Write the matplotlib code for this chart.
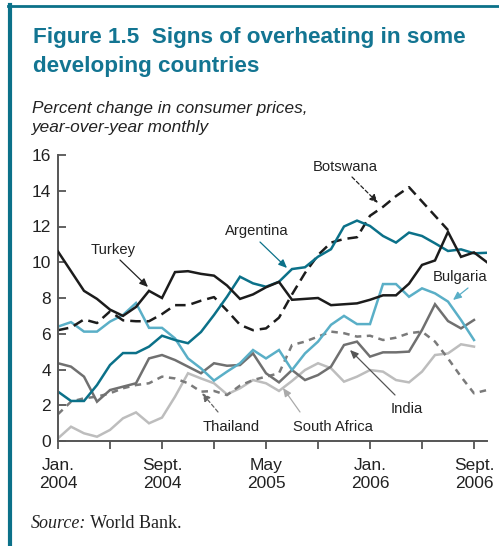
import matplotlib
matplotlib.use("Agg")
import matplotlib.pyplot as plt
from matplotlib.lines import Line2D
import numpy as np

# ---------------- data (monthly, Jan 2004 = 0) ----------------
turkey = [10.6, 9.5, 8.4, 7.95, 7.35, 7.0, 7.5, 8.4, 8.0, 9.45, 9.5, 9.35, 9.25, 8.7,
          7.95, 8.2, 8.6, 8.9, 7.9, 7.95, 8.0, 7.6, 7.65, 7.7, 7.9, 8.15, 8.15, 8.8,
          9.85, 10.1, 11.7, 10.3, 10.55, 10.0]
botswana = [6.2, 6.35, 6.8, 6.6, 7.25, 6.75, 6.7, 6.7, 7.1, 7.6, 7.6, 7.85, 8.05, 7.3,
            6.5, 6.2, 6.3, 6.9, 8.2, 9.4, 10.4, 11.1, 11.3, 11.4, 12.6, 13.1, 13.7,
            14.2, 13.4, 12.6, 11.8]
argentina = [2.76, 2.24, 2.24, 3.13, 4.25, 4.92, 4.92, 5.28, 5.89, 5.65, 5.47, 6.1,
             7.05, 8.07, 9.19, 8.82, 8.63, 8.91, 9.62, 9.72, 10.31, 10.73, 12.0, 12.33,
             12.03, 11.47, 11.1, 11.66, 11.47, 11.06, 10.63, 10.72, 10.5, 10.53]
bulgaria = [6.4, 6.65, 6.12, 6.12, 6.68, 7.05, 7.72, 6.33, 6.33, 5.74, 4.62, 4.06,
            3.38, 3.88, 4.35, 5.09, 4.62, 5.09, 3.97, 4.9, 5.56, 6.5, 7.0, 6.54, 6.54,
            8.78, 8.78, 8.07, 8.54, 8.26, 7.8, 6.77, 5.65]
india = [4.35, 4.16, 3.6, 2.2, 2.85, 3.04, 3.23, 4.62, 4.81, 4.53, 4.16, 3.79, 4.35,
         4.21, 4.25, 4.9, 3.79, 3.28, 3.97, 3.41, 3.69, 4.16, 5.37, 5.56, 4.72, 4.96,
         4.96, 5.0, 6.21, 7.65, 6.71, 6.3, 6.77]
thailand = [1.5, 2.2, 2.39, 2.48, 2.67, 2.95, 3.13, 3.23, 3.6, 3.5, 3.23, 2.76, 2.8,
            2.57, 3.1, 3.41, 3.6, 3.79, 5.37, 5.56, 5.84, 6.12, 6.03, 5.84, 5.89, 5.65,
            5.78, 6.03, 6.12, 5.56, 4.62, 3.6, 2.67, 2.85]
south_africa = [0.15, 0.8, 0.43, 0.24, 0.62, 1.27, 1.6, 0.99, 1.31, 2.48, 3.79, 3.5,
                3.23, 2.61, 2.95, 3.41, 3.23, 2.8, 3.36, 3.97, 4.35, 4.07, 3.32, 3.6,
                3.97, 3.88, 3.41, 3.28, 3.88, 4.81, 4.9, 5.41, 5.28]

tick_months = [0, 4, 8, 12, 16, 20, 24, 28, 32]
tick_labels = ["Jan.\n2004", "", "Sept.\n2004", "", "May\n2005", "", "Jan.\n2006", "", "Sept.\n2006"]
y_ticks = [0, 2, 4, 6, 8, 10, 12, 14, 16]

# ---------------- styling ----------------
TEAL_TITLE = "#137592"
C_ARG = "#0b7189"
C_BUL = "#5aafc7"
C_BLACK = "#1c1c1c"
C_INDIA = "#707070"
C_THAI = "#7a7a7a"
C_SA = "#bdbdbd"
AXIS_C = "#555555"
TXT = "#222222"

plt.rcParams["font.family"] = ["Liberation Sans", "DejaVu Sans"]

fig = plt.figure(figsize=(4.99, 5.46), dpi=100)
ax = fig.add_axes([58 / 499, 1 - 441 / 546, (487 - 58) / 499, (441 - 155) / 546])

def plot_series(vals, color, ls, lw=1.8, z=2):
    x = np.arange(len(vals))
    ax.plot(x, vals, color=color, linestyle=ls, linewidth=lw, zorder=z,
            solid_joinstyle="miter", dash_capstyle="butt")

plot_series(south_africa, C_SA, "-", z=2)
plot_series(thailand, C_THAI, (0, (2.6, 2.2)), z=2.1)
plot_series(india, C_INDIA, "-", z=2.2)
plot_series(bulgaria, C_BUL, "-", z=2.3)
plot_series(botswana, C_BLACK, (0, (4.2, 2.4)), z=2.4)
plot_series(argentina, C_ARG, "-", z=2.5)
plot_series(turkey, C_BLACK, "-", z=2.6)

ax.set_xlim(0, 33)
ax.set_ylim(0, 16)
ax.set_xticks(tick_months)
ax.set_xticklabels(tick_labels, fontsize=12.5, color=TXT, linespacing=1.2)
ax.set_yticks(y_ticks)
ax.set_yticklabels([str(v) for v in y_ticks], fontsize=12.5, color=TXT)
ax.tick_params(axis="y", direction="in", length=5.5, width=1.3, color=AXIS_C, pad=5)
ax.tick_params(axis="x", direction="out", length=5.5, width=1.3, color=AXIS_C, pad=7)
for s in ["top", "right"]:
    ax.spines[s].set_visible(False)
for s in ["left", "bottom"]:
    ax.spines[s].set_color(AXIS_C)
    ax.spines[s].set_linewidth(1.4)
ax.set_facecolor("none")

# ---------------- annotations ----------------
def pm(px, py):
    return ((px - 58) / 13.0, (441 - py) / 17.875)

def label(text, txy, start, end, arrow_color, dashed=False):
    ax.text(*pm(*txy), text, fontsize=10.6, color=TXT, ha="center", va="center")
    ax.annotate("", xy=pm(*end), xytext=pm(*start),
                arrowprops=dict(arrowstyle="-|>,head_length=0.5,head_width=0.22",
                                color=arrow_color, lw=0.9,
                                linestyle=(0, (3, 2)) if dashed else "-",
                                shrinkA=0, shrinkB=0))

label("Turkey", (113, 250), (120, 260), (148, 287), TXT)
label("Argentina", (257, 231), (260, 242), (287, 268), C_ARG)
label("Botswana", (345, 167), (352, 177), (378, 203), TXT, dashed=True)
label("Bulgaria", (460, 277), (468, 288), (453, 300), C_BUL)
label("India", (407, 409), (395, 395), (350, 350), "#555555")
label("South Africa", (333, 427), (300, 412), (283, 388), "#aaaaaa")
label("Thailand", (231, 427), (218, 412), (202, 393), "#666666", dashed=True)

# ---------------- titles, frame, source ----------------
fig.text(33 / 499, 1 - 52 / 546, "Figure 1.5  Signs of overheating in some\ndeveloping countries",
         fontsize=16.2, fontweight="bold", color=TEAL_TITLE, ha="left", va="center",
         linespacing=1.45)
fig.text(32 / 499, 1 - 118 / 546, "Percent change in consumer prices,\nyear-over-year monthly",
         fontsize=12.4, style="italic", color=TXT, ha="left", va="center",
         linespacing=1.3)

serif = ["Liberation Serif", "DejaVu Serif"]
s1 = fig.text(31 / 499, 1 - 523 / 546, "Source:", fontsize=13, style="italic",
              family=serif, ha="left", va="center", color=TXT)
renderer = fig.canvas.get_renderer()
bb = s1.get_window_extent(renderer=renderer)
fig.text(bb.x1 / fig.bbox.width, 1 - 523 / 546, " World Bank.", fontsize=13,
         family=serif, ha="left", va="center", color=TXT)

fig.add_artist(Line2D([9.5 / 499, 9.5 / 499], [0, 1 - 5 / 546], color=C_ARG, lw=3.0,
                      transform=fig.transFigure))
fig.add_artist(Line2D([8 / 499, 1], [1 - 5.5 / 546, 1 - 5.5 / 546], color=C_ARG, lw=2.0,
                      transform=fig.transFigure))

fig.savefig("out.png", dpi=100)
